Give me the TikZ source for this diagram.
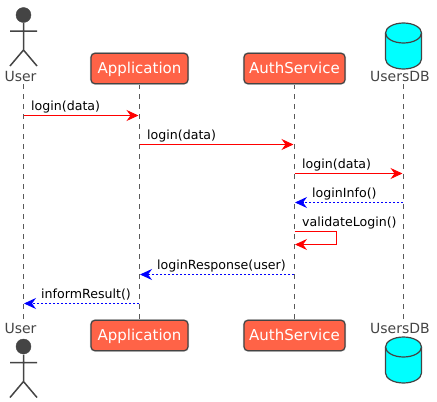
\documentclass[tikz,border=0pt]{standalone}
\usepackage{fontspec}
\setmainfont{DejaVu Sans}
\usetikzlibrary{arrows.meta}
\definecolor{ink}{HTML}{444444}
\definecolor{tomato}{HTML}{FF6347}
\definecolor{aqua}{HTML}{00FFFF}
\definecolor{lifegray}{HTML}{5A5A5A}
\tikzset{
  x=1pt,y=-1pt,
  partbox/.style={draw=ink,fill=tomato,line width=1.2pt,rounded corners=4pt,text=white,font=\fontsize{15}{15}\selectfont,minimum height=30.5pt,text height=13pt,text depth=3pt,inner sep=0pt,anchor=center,preaction={draw=black!15,line width=2.2pt}},
  partname/.style={text=ink,font=\fontsize{14}{14}\selectfont,inner sep=0pt,anchor=center},
  lifeline/.style={draw=lifegray,line width=0.7pt,dash pattern=on 5pt off 5pt},
  figure/.style={draw=ink,line width=1.5pt},
  dbshape/.style={draw=ink,line width=1.2pt,fill=aqua},
  msgcall/.style={draw=red,line width=1pt,-{Stealth[length=12pt,width=11pt,inset=4pt,fill=red]}},
  msgback/.style={draw=blue,line width=1pt,dash pattern=on 2pt off 2pt,-{Stealth[length=12pt,width=11pt,inset=4pt,fill=blue]}},
  msgtext/.style={text=black,font=\fontsize{12.6}{13}\selectfont,inner sep=0pt,anchor=base west},
}
\newcommand{\stickman}[2]{%
  \fill[ink,draw=ink] (#1,#2) circle[radius=7.5pt];
  \draw[figure] (#1,#2+8) -- (#1,#2+35) (#1-13.5,#2+16) -- (#1+13.5,#2+16) (#1-13.5,#2+51) -- (#1,#2+35) -- (#1+13.5,#2+51);
}
\newcommand{\dbdrum}[2]{%
  \draw[dbshape] (#1-18,#2) arc[start angle=180,end angle=0,x radius=18pt,y radius=10pt] -- (#1+18,#2+26) arc[start angle=0,end angle=-180,x radius=18pt,y radius=10pt] -- cycle;
  \draw[dbshape,fill=none] (#1-18,#2) arc[start angle=180,end angle=360,x radius=18pt,y radius=10pt];
}
\begin{document}
\begin{tikzpicture}
\useasboundingbox (0,0) rectangle (437,402);
\stickman{23.5}{15}
\stickman{23.5}{346.5}
\dbdrum{403.5}{33}
\dbdrum{403.5}{347}
\node[partname] (usert) at (20.5,76) {User};
\node[partname] (userb) at (20.5,328) {User};
\node[partname] (dbt) at (400,76) {UsersDB};
\node[partname] (dbb) at (400,328) {UsersDB};
\coordinate (ut) at (23.5,84); \coordinate (ub) at (23.5,320);
\coordinate (dt) at (403.5,84); \coordinate (db) at (403.5,320);
\coordinate (appa) at (139.5,84); \coordinate (appz) at (139.5,320);
\coordinate (autha) at (294.5,84); \coordinate (authz) at (294.5,320);
\draw[lifeline] (ut) -- (ub);
\draw[lifeline] (appa) -- (appz);
\draw[lifeline] (autha) -- (authz);
\draw[lifeline] (dt) -- (db);
\node[partbox,minimum width=97pt] (appt) at (139.5,68.5) {Application};
\node[partbox,minimum width=101pt] (autht) at (294.5,68.5) {AuthService};
\node[partbox,minimum width=97pt] (appb) at (139.5,335.5) {Application};
\node[partbox,minimum width=101pt] (authb) at (294.5,335.5) {AuthService};
\coordinate (a1) at (23.5,115.5); \coordinate (b1) at (138.5,115.5);
\coordinate (a2) at (139.5,144.5); \coordinate (b2) at (293.5,144.5);
\coordinate (a3) at (294.5,173.5); \coordinate (b3) at (402.5,173.5);
\coordinate (a4) at (403,202.5); \coordinate (b4) at (295,202.5);
\coordinate (a5) at (294.5,231.5); \coordinate (k1) at (336.5,231.5); \coordinate (k2) at (336.5,244.5); \coordinate (b5) at (295,244.5);
\coordinate (a6) at (294,274.5); \coordinate (b6) at (140,274.5);
\coordinate (a7) at (139,303.5); \coordinate (b7) at (24,303.5);
\draw[msgcall] (a1) -- (b1);
\draw[msgcall] (a2) -- (b2);
\draw[msgcall] (a3) -- (b3);
\draw[msgback] (a4) -- (b4);
\draw[msgcall] (a5) -- (k1) -- (k2) -- (b5);
\draw[msgback] (a6) -- (b6);
\draw[msgback] (a7) -- (b7);
\node[msgtext] (t1) at (31,110) {login(data)};
\node[msgtext] (t2) at (147,139) {login(data)};
\node[msgtext] (t3) at (302,168) {login(data)};
\node[msgtext] (t4) at (312,197) {loginInfo()};
\node[msgtext] (t5) at (302,226) {validateLogin()};
\node[msgtext] (t6) at (157,269) {loginResponse(user)};
\node[msgtext] (t7) at (41,298) {informResult()};
\end{tikzpicture}
\end{document}
